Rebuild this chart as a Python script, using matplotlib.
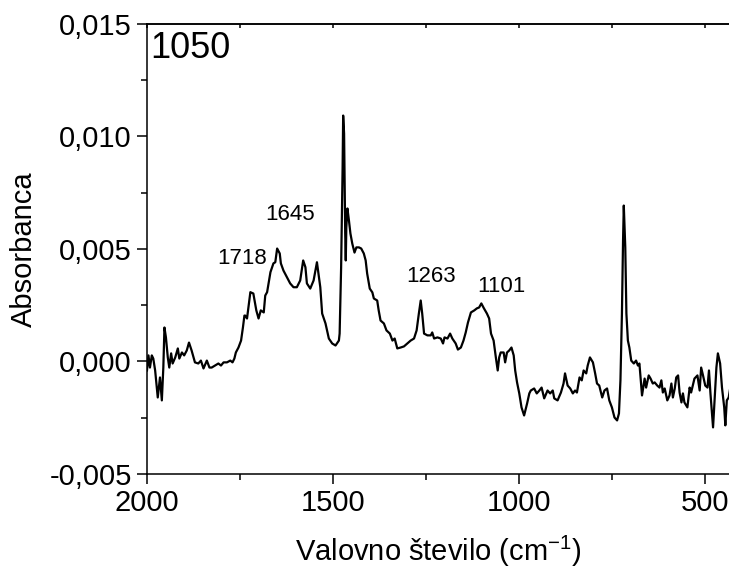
import numpy as np
import matplotlib
matplotlib.use('Agg')
import matplotlib.pyplot as plt
from matplotlib.ticker import MultipleLocator, FuncFormatter, NullFormatter

plt.rcParams['font.family'] = ['Liberation Sans', 'DejaVu Sans']
plt.rcParams['mathtext.fontset'] = 'custom'
plt.rcParams['mathtext.rm'] = 'Liberation Sans'
plt.rcParams['mathtext.it'] = 'Liberation Sans:italic'

# spectrum (wavenumber cm-1, absorbance)
wavenumber = [
    2000, 1996, 1992, 1987, 1983, 1978, 1971, 1965, 1960, 1956, 1953, 1949, 1944, 1940,
    1935, 1931, 1924, 1917, 1913, 1906, 1900, 1893, 1887, 1880, 1871, 1862, 1855, 1848,
    1839, 1832, 1826, 1817, 1808, 1801, 1794, 1785, 1776, 1770, 1765, 1761, 1754, 1747,
    1742, 1738, 1736, 1731, 1722, 1714, 1706, 1700, 1694, 1686, 1682, 1677, 1668, 1660,
    1655, 1650, 1643, 1640, 1633, 1624, 1615, 1606, 1597, 1588, 1580, 1574, 1570, 1561,
    1552, 1543, 1534, 1529, 1520, 1511, 1502, 1493, 1484, 1482, 1478, 1474, 1472.5, 1470,
    1467, 1465.5, 1464, 1461, 1457, 1453, 1448, 1442, 1437, 1430, 1424, 1417, 1412, 1408,
    1401, 1394, 1390, 1381, 1377, 1372, 1363, 1356, 1347, 1340, 1334, 1327, 1318, 1309,
    1300, 1291, 1282, 1275, 1269, 1264, 1260, 1255, 1246, 1237, 1233, 1228, 1219, 1210,
    1204, 1200, 1192, 1185, 1179, 1170, 1164, 1156, 1149, 1143, 1137, 1129, 1120, 1113,
    1107, 1101, 1094, 1086, 1080, 1075, 1068, 1062, 1057, 1053, 1049, 1041, 1037, 1032,
    1026, 1020, 1014, 1010, 1005, 999, 993, 986, 978, 972, 968, 959, 952, 945,
    939, 932, 923, 916, 909, 905, 896, 887, 880, 876, 869, 862, 855, 849,
    844, 837, 831, 826, 819, 815, 809, 801, 795, 790, 784, 776, 770, 763,
    757, 750, 743, 736, 731, 727, 723, 720, 718, 714, 711, 707, 703, 698,
    691, 685, 680, 676, 669, 662, 658, 651, 646, 640, 635, 628, 622, 617,
    613, 608, 601, 595, 590, 586, 581, 577, 572, 568, 563, 559, 555, 547,
    541, 537, 528, 520, 514, 510, 505, 499, 493, 489, 485, 478, 474, 469,
    465, 459, 454, 448, 445, 441, 436, 432,
]
absorbance = [
    -0.00040, 0.00027, -0.00027, 0.00027, 0.00013, -0.00040, -0.00160, -0.00071, -0.00173, -0.00027, 0.00151, 0.00107, 0.00018, -0.00027,
    0.00036, -0.00009, 0.00018, 0.00058, 0.00013, 0.00040, 0.00027, 0.00049, 0.00084, 0.00049, -0.00004, -0.00009, 0.00004, -0.00031,
    0.00004, -0.00027, -0.00027, -0.00018, -0.00009, -0.00018, -0.00004, -0.00004, 0.00004, -0.00004, 0.00013, 0.00040, 0.00062, 0.00093,
    0.00151, 0.00204, 0.00204, 0.00191, 0.00308, 0.00302, 0.00227, 0.00191, 0.00227, 0.00218, 0.00293, 0.00308, 0.00397, 0.00436,
    0.00441, 0.00502, 0.00480, 0.00436, 0.00404, 0.00375, 0.00347, 0.00330, 0.00330, 0.00360, 0.00449, 0.00419, 0.00347, 0.00324,
    0.00360, 0.00441, 0.00330, 0.00213, 0.00169, 0.00102, 0.00080, 0.00071, 0.00093, 0.00124, 0.00418, 0.00862, 0.01093, 0.01013,
    0.00569, 0.00449, 0.00596, 0.00680, 0.00627, 0.00569, 0.00524, 0.00484, 0.00507, 0.00507, 0.00502, 0.00480, 0.00449, 0.00391,
    0.00324, 0.00307, 0.00280, 0.00271, 0.00227, 0.00182, 0.00169, 0.00138, 0.00124, 0.00093, 0.00102, 0.00058, 0.00062, 0.00067,
    0.00080, 0.00093, 0.00102, 0.00138, 0.00213, 0.00271, 0.00213, 0.00124, 0.00116, 0.00116, 0.00129, 0.00102, 0.00107, 0.00102,
    0.00080, 0.00107, 0.00102, 0.00124, 0.00102, 0.00080, 0.00053, 0.00062, 0.00093, 0.00129, 0.00173, 0.00218, 0.00227, 0.00236,
    0.00240, 0.00258, 0.00236, 0.00213, 0.00191, 0.00124, 0.00093, 0.00018, -0.00040, 0.00018, 0.00040, 0.00040, -0.00004, 0.00040,
    0.00049, 0.00062, 0.00027, -0.00040, -0.00093, -0.00142, -0.00204, -0.00240, -0.00187, -0.00142, -0.00129, -0.00120, -0.00142, -0.00129,
    -0.00116, -0.00164, -0.00129, -0.00142, -0.00129, -0.00164, -0.00173, -0.00138, -0.00098, -0.00053, -0.00107, -0.00120, -0.00142, -0.00129,
    -0.00138, -0.00071, -0.00084, -0.00040, -0.00053, -0.00018, 0.00018, -0.00004, -0.00053, -0.00098, -0.00107, -0.00160, -0.00129, -0.00120,
    -0.00173, -0.00204, -0.00249, -0.00262, -0.00231, -0.00084, 0.00213, 0.00538, 0.00693, 0.00507, 0.00213, 0.00093, 0.00062, 0.00004,
    -0.00009, 0.00004, -0.00018, -0.00009, -0.00151, -0.00076, -0.00116, -0.00062, -0.00076, -0.00098, -0.00093, -0.00107, -0.00116, -0.00084,
    -0.00138, -0.00120, -0.00173, -0.00151, -0.00098, -0.00160, -0.00120, -0.00071, -0.00062, -0.00138, -0.00182, -0.00142, -0.00182, -0.00204,
    -0.00116, -0.00138, -0.00076, -0.00062, -0.00129, -0.00027, -0.00062, -0.00107, -0.00116, -0.00040, -0.00142, -0.00293, -0.00173, -0.00027,
    0.00036, -0.00009, -0.00116, -0.00204, -0.00284, -0.00173, -0.00160, -0.00120,
]

# peak labels
peak_labels = ['1718', '1645', '1263', '1101']
peak_x = [1744, 1615, 1237, 1046]
peak_y = [0.00458, 0.00653, 0.00378, 0.00331]

fig = plt.figure(figsize=(7.29, 5.75), dpi=100)
ax = fig.add_axes([0.2016, 0.1757, 0.80, 0.7826])

ax.plot(wavenumber, absorbance, color='black', lw=1.6)

for lab, px, py in zip(peak_labels, peak_x, peak_y):
    ax.text(px, py, lab, fontsize=16, ha='center', va='center')

ax.text(0.005, 0.985, '1050', transform=ax.transAxes, fontsize=26, ha='left', va='top')

ax.set_xlim(2000, 432)
ax.set_ylim(-0.005, 0.015)
ax.xaxis.set_major_locator(MultipleLocator(500))
ax.xaxis.set_minor_locator(MultipleLocator(250))
ax.yaxis.set_major_locator(MultipleLocator(0.005))
ax.yaxis.set_minor_locator(MultipleLocator(0.0025))
ax.yaxis.set_major_formatter(FuncFormatter(lambda v, p: f'{v:.3f}'.replace('.', ',')))

ax.spines['right'].set_visible(False)
for s in ['left', 'bottom', 'top']:
    ax.spines[s].set_linewidth(1.1)

ax.tick_params(axis='both', which='major', direction='out', length=7, width=1.1, labelsize=21, pad=4)
ax.tick_params(axis='both', which='minor', direction='out', length=4, width=1.1)

# small inward ticks along the top edge
top = ax.secondary_xaxis('top')
top.xaxis.set_major_locator(MultipleLocator(500))
top.xaxis.set_minor_locator(MultipleLocator(250))
top.xaxis.set_major_formatter(NullFormatter())
top.tick_params(which='both', direction='in', length=3, width=1.1)
top.spines['top'].set_linewidth(1.1)

ax.set_xlabel('Valovno število (cm$^{-1}$)', fontsize=21, labelpad=12)
ax.set_ylabel('Absorbanca', fontsize=21, labelpad=8)

fig.savefig('out.png', dpi=100)
